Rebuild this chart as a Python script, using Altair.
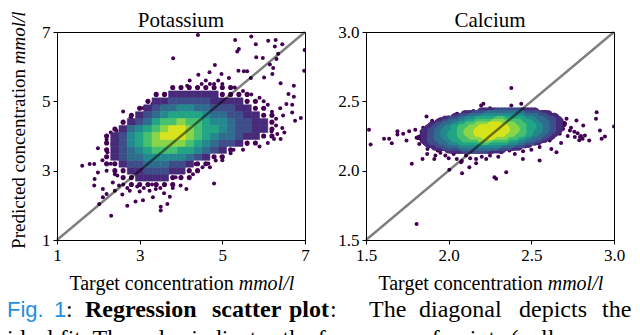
import altair as alt
import pandas as pd

# ---------------- data ----------------
# Potassium: density cells (0.2 mmol/l grid), digit = colour level (1 dark .. 9 yellow)
K_GRID_X = [1.6, 1.8, 2.0, 2.2, 2.4, 2.6, 2.8, 3.0, 3.2, 3.4, 3.6, 3.8, 4.0, 4.2,
            4.4, 4.6, 4.8, 5.0, 5.2, 5.4, 5.6, 5.8, 6.0, 6.2, 6.4, 6.6, 6.8, 7.0]
K_GRID_Y = [5.4, 5.2, 5.0, 4.8, 4.6, 4.4, 4.2, 4.0, 3.8, 3.6, 3.4, 3.2, 3.0, 2.8, 2.6]
K_GRID = [
    "." * 11 + "11111111" + "." * 9,
    "." * 9 + "112222221111" + "." * 7,
    "." * 8 + "12233333222211" + "." * 6,
    "." * 7 + "1234455443332211" + "." * 5,
    "." * 6 + "123456666544332211" + "." * 4,
    "." * 5 + "1234677877655433221" + "." * 4,
    "." * 4 + "12456789987665433221" + "." * 4,
    "." * 3 + "123567899987654432211" + "." * 4,
    "." * 3 + "1235678888765433211" + "." * 6,
    "." * 3 + "1234567776654321" + "." * 9,
    "." * 3 + "123445555543211" + "." * 10,
    "." * 3 + "1123344433211" + "." * 12,
    "." * 4 + "11223332211" + "." * 13,
    "." * 5 + "112222111" + "." * 14,
    "." * 6 + "111111" + "." * 16,
]
K_OUT_X = [4.41, 5.31, 5.70, 5.81, 6.11, 6.29, 6.27, 6.45, 5.36, 5.40, 3.81, 5.82, 5.98, 6.35,
           6.31, 6.15, 6.23, 6.99, 6.98, 4.82, 4.69, 4.98, 5.16, 5.39, 5.52, 5.60, 5.69, 6.01,
           6.21, 6.41, 6.73, 6.60, 6.73, 6.55, 6.69, 6.69, 6.47, 6.76, 6.90, 6.45, 6.33, 6.41,
           6.25, 6.19, 5.60, 5.27, 4.98, 4.84, 4.80, 4.66, 4.52, 4.21, 4.42, 4.15, 3.95, 3.77,
           3.61, 3.47, 3.31, 3.09, 2.90, 2.60, 2.78, 2.62, 2.44, 2.62, 2.46, 2.34, 2.22, 1.99,
           1.61, 1.79, 1.90, 1.99, 1.91, 1.90, 2.11, 2.02, 2.11, 2.20, 2.31, 2.40, 2.58, 2.70,
           2.90, 3.08, 3.24, 3.32, 3.51, 3.67, 3.51, 3.73, 3.59, 3.39, 3.99, 3.87, 4.13, 4.29,
           4.35, 2.76, 2.46, 2.35, 2.50, 2.94, 4.5, 4.6, 4.7, 4.8, 4.9, 5.0, 5.3, 5.5, 5.7,
           5.9, 6.1, 6.0, 6.2, 6.3, 6.3, 5.5, 5.9, 6.1, 5.2, 5.0, 4.7, 2.7, 2.8, 3.0, 3.1,
           2.6, 3.3, 3.5, 3.6, 3.8, 2.3, 2.2, 2.4, 2.1, 2.2, 2.3, 2.8, 3.0, 3.2, 6.4, 6.5]
K_OUT_Y = [6.91, 6.77, 6.87, 6.65, 6.75, 6.77, 6.58, 6.65, 6.44, 6.51, 6.24, 6.27, 6.25, 6.37,
           6.22, 6.06, 5.96, 6.48, 5.88, 6.05, 5.84, 5.79, 5.67, 5.88, 5.87, 5.87, 5.67, 5.69,
           5.79, 5.52, 5.45, 5.21, 5.13, 4.92, 4.90, 4.68, 4.59, 4.44, 4.52, 4.23, 4.06, 3.91,
           3.91, 4.13, 3.77, 3.60, 3.40, 3.29, 2.63, 3.21, 3.10, 5.60, 5.77, 5.45, 5.21, 5.19,
           5.21, 4.88, 4.92, 4.81, 4.37, 4.71, 4.54, 4.20, 4.15, 4.08, 3.87, 3.77, 3.53, 3.65,
           3.14, 3.19, 3.19, 2.95, 2.76, 2.57, 2.47, 2.04, 2.23, 2.33, 1.70, 2.42, 2.31, 1.99,
           2.11, 2.15, 2.42, 2.23, 1.96, 2.04, 1.85, 2.25, 2.35, 2.47, 2.57, 2.81, 2.47, 2.90,
           3.19, 2.42, 2.86, 2.66, 2.57, 2.54, 5.5, 5.6, 5.5, 5.5, 5.6, 5.5, 5.4, 5.3, 5.2,
           5.1, 4.9, 5.0, 4.7, 4.5, 4.3, 3.6, 3.7, 3.8, 3.5, 3.3, 3.1, 2.5, 2.6, 2.4, 2.5,
           2.6, 2.6, 2.5, 2.6, 2.5, 3.2, 3.0, 2.9, 3.3, 3.9, 4.1, 4.5, 4.8, 5.0, 4.8, 4.1]

# Calcium: density cells (0.02 mmol/l grid)
CA_GRID_X = [1.80, 1.82, 1.84, 1.86, 1.88, 1.90, 1.92, 1.94, 1.96, 1.98, 2.00, 2.02, 2.04,
             2.06, 2.08, 2.10, 2.12, 2.14, 2.16, 2.18, 2.20, 2.22, 2.24, 2.26, 2.28, 2.30,
             2.32, 2.34, 2.36, 2.38, 2.40, 2.42, 2.44, 2.46, 2.48, 2.50, 2.52, 2.54, 2.56,
             2.58, 2.60, 2.62, 2.64, 2.66, 2.68, 2.70]
CA_GRID_Y = [2.42, 2.40, 2.38, 2.36, 2.34, 2.32, 2.30, 2.28, 2.26, 2.24, 2.22, 2.20, 2.18,
             2.16, 2.14]
CA_GRID = [
    "." * 17 + "111" + "22222" + "3333333" + "22222" + "111" + "." * 6,
    "." * 13 + "11" + "222" + "3333" + "4" * 11 + "33333" + "222" + "11" + "...",
    "." * 10 + "11" + "22" + "333" + "4444" + "5" * 12 + "4444" + "333" + "222" + "1" + "..",
    "." * 7 + "11" + "22" + "333" + "44" + "555" + "666666" + "77" + "666666" + "555" + "444" + "333" + "22" + "1" + ".",
    "." * 5 + "11" + "22" + "33" + "444" + "55" + "666" + "77777" + "888" + "77777" + "666" + "55" + "444" + "33" + "22" + "11",
    "...." + "1" + "22" + "33" + "444" + "55" + "66" + "777" + "8888" + "999" + "8888" + "777" + "666" + "55" + "44" + "33" + "22" + "1" + ".",
    "..." + "1" + "22" + "33" + "44" + "55" + "66" + "777" + "888" + "99999999" + "888" + "77" + "66" + "555" + "44" + "33" + "22" + "1" + ".",
    ".." + "1" + "22" + "33" + "44" + "555" + "66" + "77" + "888" + "99999999" + "888" + "777" + "66" + "55" + "44" + "33" + "22" + "1" + "..",
    ".." + "1" + "22" + "33" + "44" + "55" + "666" + "777" + "8888" + "999" + "8888" + "777" + "66" + "55" + "444" + "33" + "22" + "1" + "...",
    "." + "11" + "22" + "33" + "444" + "55" + "666" + "77777" + "888" + "77777" + "666" + "55" + "444" + "33" + "22" + "11" + "....",
    ".." + "1" + "22" + "333" + "444" + "555" + "666666" + "77" + "666666" + "555" + "44" + "333" + "22" + "11" + "......",
    "..." + "1" + "222" + "333" + "4444" + "5" * 12 + "4444" + "333" + "22" + "11" + "." * 9,
    "...." + "11" + "222" + "33333" + "4" * 11 + "3333" + "222" + "11" + "." * 12,
    "." * 7 + "111" + "22222" + "3333333" + "22222" + "111" + "." * 16,
    "." * 11 + "1" * 13 + "." * 22,
]
CA_OUT_X = [1.518, 1.528, 1.609, 1.64, 1.656, 1.69, 1.69, 1.725, 1.745, 1.761, 1.798, 1.806,
            1.777, 1.822, 1.866, 1.846, 1.842, 1.872, 1.913, 1.933, 1.994, 2.004, 2.049, 2.075,
            2.081, 2.125, 2.166, 2.166, 2.196, 2.21, 2.227, 2.277, 2.287, 2.348, 2.379, 2.379,
            2.439, 2.449, 2.55, 2.601, 2.53, 2.611, 2.621, 2.652, 2.713, 2.733, 2.773, 2.814,
            2.824, 2.794, 2.85, 2.895, 2.891, 2.915, 2.925, 2.945, 3.0, 1.806, 2.763, 2.692,
            2.672, 2.571, 2.368, 2.318, 2.206, 2.105, 1.98, 1.903, 1.883, 1.852, 1.933, 2.045,
            2.115, 2.287, 2.348, 2.49, 2.78, 2.80, 2.76, 2.81, 2.79, 2.74, 2.70, 2.68, 2.72,
            1.87, 1.92, 1.95, 2.0, 2.03, 2.08, 2.13, 2.2, 2.25, 2.3, 2.4, 2.45, 2.5, 2.55,
            2.2, 2.25, 2.3, 2.4, 2.45, 2.15, 2.05, 1.95, 1.9]
CA_OUT_Y = [2.295, 2.189, 2.23, 2.23, 2.198, 2.285, 2.26, 2.266, 2.218, 2.285, 2.295, 2.237,
            2.049, 2.193, 2.39, 2.309, 2.085, 2.157, 2.085, 2.145, 2.362, 2.006, 2.085, 2.061,
            1.982, 2.025, 2.054, 2.085, 2.47, 2.482, 2.085, 1.953, 1.941, 1.989, 2.596, 2.47,
            2.482, 2.085, 2.073, 2.41, 2.429, 2.218, 2.157, 2.133, 2.374, 2.29, 2.362, 2.326,
            2.254, 2.242, 2.218, 2.422, 2.374, 2.29, 2.23, 2.246, 2.319, 1.616, 2.242, 2.302,
            2.266, 2.218, 2.145, 2.133, 2.145, 2.109, 2.109, 2.193, 2.242, 2.271, 2.338, 2.386,
            2.41, 2.434, 2.434, 2.41, 2.27, 2.25, 2.28, 2.23, 2.22, 2.31, 2.33, 2.20, 2.25,
            2.12, 2.11, 2.13, 2.09, 2.12, 2.07, 2.09, 2.1, 2.11, 2.1, 2.12, 2.14, 2.15, 2.17,
            2.44, 2.45, 2.44, 2.44, 2.43, 2.43, 2.41, 2.37, 2.36]

K_DOMAIN = [1, 7]
K_TICKS = [1, 3, 5, 7]
CA_DOMAIN = [1.5, 3.0]
CA_TICKS = [1.5, 2.0, 2.5, 3.0]
TITLES = ["Potassium", "Calcium"]
Y_TITLE = ["Predicted concentration", "mmol/l"]
X_TITLE = ["Target concentration", "mmol/l"]
CAPTION_1 = ["Fig.", "1", ":", "Regression", "scatter", "plot", ":", "The", "diagonal",
             "depicts", "the"]
CAPTION_2 = "ideal fit. The color indicates the frequency of points (yellow"

# ---------------- helpers ----------------
SERIF = "Liberation Serif"
SANS = "Liberation Sans"
W, H = 248, 208
ONE = pd.DataFrame({"k": [0]})
DARK = "#440154"


def grid_df(xs, ys, rows, hx, hy):
    recs = []
    for yv, row in zip(ys, rows):
        for xv, ch in zip(xs, row):
            if ch != ".":
                recs.append({"x": xv, "y": yv, "level": int(ch),
                             "x0": xv - hx, "x1": xv + hx, "y0": yv - hy, "y1": yv + hy})
    return pd.DataFrame(recs).sort_values("level", kind="stable")


def txt(s, x, y, size, font=SERIF, style="normal", weight="normal", color="black",
        align="left", baseline="alphabetic", angle=0):
    return alt.Chart(ONE).mark_text(
        text=s, font=font, fontSize=size, fontStyle=style, fontWeight=weight,
        color=color, align=align, baseline=baseline, angle=angle
    ).encode(x=alt.value(x), y=alt.value(y))


def panel(title, grid, outx, outy, domain, ticks, fmt, cells_as_rect, extra=()):
    xs = alt.Scale(domain=domain, nice=False, zero=False)
    ys = alt.Scale(domain=domain, nice=False, zero=False)
    xax = alt.Axis(values=ticks, format=fmt, title=None, grid=False,
                   labelFlush=False, labelOverlap=False)
    yax = alt.Axis(values=ticks, format=fmt, title=None, grid=False, labelOverlap=False)
    cscale = alt.Scale(scheme="viridis", domain=[1, 9.5])
    color = alt.Color("level:Q", scale=cscale, legend=None)
    X = alt.X("x:Q", scale=xs, axis=xax)
    Y = alt.Y("y:Q", scale=ys, axis=yax)

    edge = grid[grid["level"] == 1]
    inner = grid[grid["level"] > 1]

    dots = alt.Chart(pd.DataFrame({"x": outx, "y": outy})).mark_circle(
        size=16, opacity=1, color=DARK, clip=True).encode(x=X, y=Y)
    edge_dots = alt.Chart(edge).mark_circle(
        size=26, opacity=1, color=DARK, clip=True).encode(x=X, y=Y)

    if cells_as_rect:
        cells = alt.Chart(inner).mark_rect(clip=True, strokeWidth=0.6).encode(
            x=alt.X("x0:Q", scale=xs, axis=xax), x2="x1",
            y=alt.Y("y0:Q", scale=ys, axis=yax), y2="y1",
            color=color, stroke=alt.Stroke("level:Q", scale=cscale, legend=None))
    else:
        cells = alt.Chart(inner).mark_circle(size=105, opacity=1, clip=True).encode(
            x=X, y=Y, color=color)

    diag = alt.Chart(pd.DataFrame({"x": domain, "y": domain})).mark_line(
        color="black", opacity=0.5, strokeWidth=2.5).encode(x=X, y=Y)

    texts = [
        txt(title, W / 2, -5, 21, align="center"),
        txt(X_TITLE[0], 176.7, 258, 20, align="right"),
        txt(X_TITLE[1], 181.7, 258, 20, style="italic", align="left"),
    ]
    return alt.layer(dots, edge_dots, cells, diag, *texts, *extra).properties(width=W, height=H)


left_extra = [
    txt(Y_TITLE[0], -38.5, 37, 19, align="right", baseline="middle", angle=270),
    txt(Y_TITLE[1], -38.5, 32.3, 19, style="italic", align="left", baseline="middle", angle=270),
    txt(CAPTION_1[0], -50, 285, 22, font=SANS, color="#1f8fe0"),
    txt(CAPTION_1[1], -3, 285, 22, font=SANS, color="#1f8fe0"),
    txt(CAPTION_1[2], 9, 285, 24),
    txt(CAPTION_1[3], 28, 285, 24, weight="bold"),
    txt(CAPTION_1[4], 155, 285, 24, weight="bold"),
    txt(CAPTION_1[5], 232, 285, 24, weight="bold"),
    txt(CAPTION_1[6], 273, 285, 24),
    txt(CAPTION_1[7], 312, 285, 24),
    txt(CAPTION_1[8], 362, 285, 24),
    txt(CAPTION_1[9], 462, 285, 24),
    txt(CAPTION_1[10], 545, 285, 24),
    txt(CAPTION_2, -50, 314, 24),
]

k_cells = grid_df(K_GRID_X, K_GRID_Y, K_GRID, 0.1, 0.1)
ca_cells = grid_df(CA_GRID_X, CA_GRID_Y, CA_GRID, 0.01, 0.01)

left = panel(TITLES[0], k_cells, K_OUT_X, K_OUT_Y, K_DOMAIN, K_TICKS, "d", True, left_extra)
right = panel(TITLES[1], ca_cells, CA_OUT_X, CA_OUT_Y, CA_DOMAIN, CA_TICKS, ".1f", False)

chart = alt.hconcat(left, right, spacing=61, bounds="flush").properties(
    padding={"left": -2, "top": 1, "right": 0, "bottom": 0},
    background="white",
).configure_view(stroke="black", strokeWidth=1).configure_axis(
    domainColor="black", domainWidth=1, tickColor="black", tickWidth=1, tickSize=4,
    labelColor="black", labelFont=SERIF, labelFontSize=17, labelPadding=3,
)

chart.save("out.html", embed_options={"renderer": "svg", "actions": False})
